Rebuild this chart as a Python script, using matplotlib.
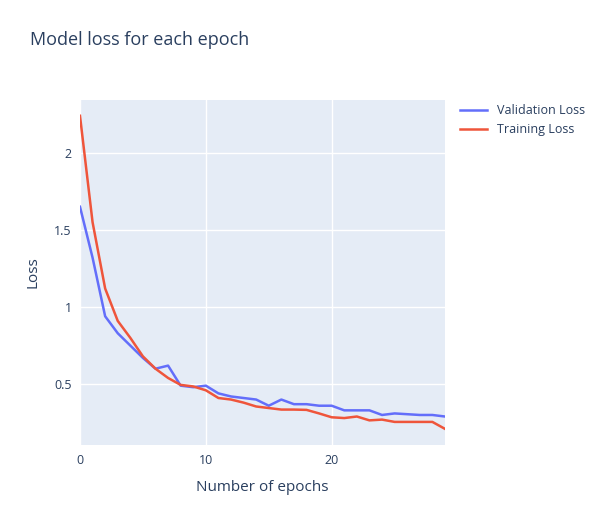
import matplotlib
matplotlib.use("Agg")
import matplotlib.pyplot as plt

epochs = list(range(30))
val_loss = [1.65,1.32,0.94,0.83,0.75,0.67,0.60,0.62,0.49,0.48,0.49,0.44,0.42,0.41,0.40,0.36,0.40,0.37,0.37,0.36,0.36,0.33,0.33,0.33,0.30,0.31,0.305,0.30,0.30,0.29]
train_loss = [2.24,1.55,1.12,0.91,0.80,0.68,0.60,0.54,0.495,0.485,0.46,0.41,0.40,0.38,0.355,0.345,0.335,0.335,0.333,0.31,0.285,0.28,0.29,0.265,0.27,0.255,0.255,0.255,0.255,0.21]

plt.rcParams['font.family'] = ['Open Sans', 'DejaVu Sans']
fig = plt.figure(figsize=(6, 5.25), dpi=100)
ax = fig.add_axes([0.1333, 0.152, 0.6083, 0.658])
ax.set_facecolor('#E5ECF6')
ax.plot(epochs, val_loss, color='#636EFA', lw=1.8, label='Validation Loss')
ax.plot(epochs, train_loss, color='#EF553B', lw=1.8, label='Training Loss')
ax.set_xlim(0, 29)
ax.set_ylim(0.104, 2.344)
ax.set_xticks([0, 10, 20])
ax.set_yticks([0.5, 1, 1.5, 2])
ax.set_yticklabels(['0.5', '1', '1.5', '2'])
ax.grid(color='white', lw=1)
ax.set_axisbelow(True)
for s in ax.spines.values():
    s.set_visible(False)
ax.tick_params(length=0, colors='#2a3f5f', labelsize=9, pad=6)
ax.set_xlabel('Number of epochs', color='#2a3f5f', fontsize=11, labelpad=10)
ax.set_ylabel('Loss', color='#2a3f5f', fontsize=11, labelpad=10)
fig.text(0.05, 0.915, 'Model loss for each epoch', color='#2a3f5f', fontsize=13)
leg = ax.legend(loc='upper left', bbox_to_anchor=(1.01, 1.02), frameon=False, fontsize=9, handlelength=2.2)
for t in leg.get_texts():
    t.set_color('#2a3f5f')
fig.savefig('out.png')
